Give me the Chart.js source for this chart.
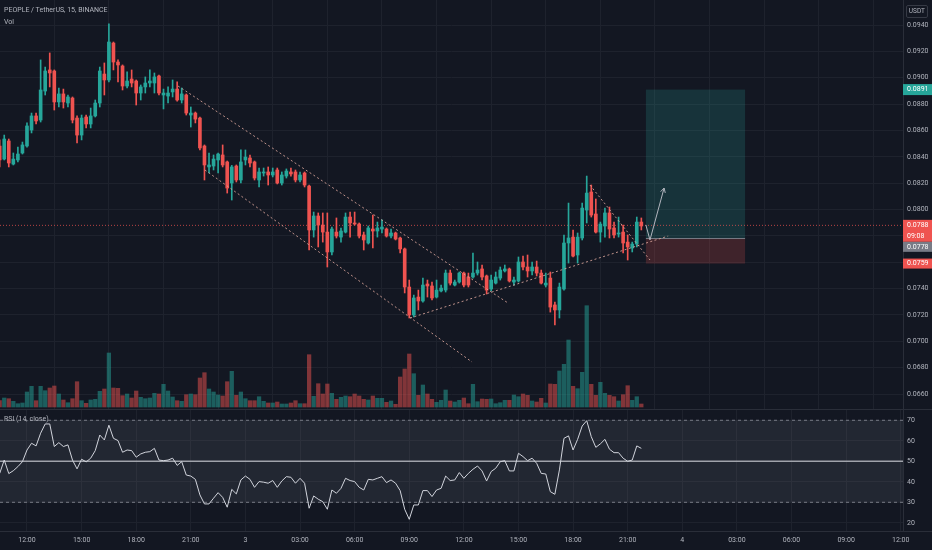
<!DOCTYPE html>
<html lang="en">

<head>
  <meta charset="UTF-8">
  <meta name="viewport" content="width=device-width, initial-scale=1.0">
  <title>PEOPLE / TetherUS, 15, BINANCE</title>
  <script src="https://cdn.jsdelivr.net/npm/chart.js"></script>
  <style>
    html, body { margin: 0; padding: 0; background: #131722; }
    .painel { position: relative; width: 932px; height: 550px; overflow: hidden; background: #131722; font-family: Roboto, "Noto Sans", sans-serif; }
    .painel canvas { position: absolute; left: 0; }
    #grafico_preco { top: 0; }
    #grafico_rsi { top: 409px; }
    .legenda { position: absolute; left: 4px; font-size: 7px; line-height: 9px; color: #b2b5be; white-space: nowrap; }
    .moeda { position: absolute; right: 4px; top: 5px; padding: 1px 2px; font-size: 6.5px; line-height: 9px; color: #b2b5be; border: 1px solid #363a45; border-radius: 2px; }
  </style>
</head>

<body>
  <div class="painel">
    <canvas id="grafico_preco" width="932" height="409"></canvas>
    <canvas id="grafico_rsi" width="932" height="141"></canvas>
    <div class="legenda" style="top:6px">PEOPLE / TetherUS, 15, BINANCE</div>
    <div class="legenda" style="top:18px">Vol</div>
    <div class="legenda" style="top:415px">RSI (14, close)</div>
    <div class="moeda">USDT</div>
  </div>
</body>

</html>
<script>
  // bar index of the first candle, counted in 15 min steps from 12:00 of day 2
  var firstBar = -6;

  var opens = [
    .08482, .08383, .08520, .08345, .08376, .08429, .08482, .08603, .08710, .08679,
    .08899, .09059, .09051, .08816, .08877, .08808, .08846, .08694, .08565, .08702,
    .08649, .08710, .08808, .09028, .08983, .09263, .09119, .09089, .08937, .08990,
    .08975, .08884, .08930, .08960, .08960, .09013, .08869, .08861, .08892, .08914,
    .08831, .08869, .08717, .08732, .08694, .08482, .08323, .08330, .08376, .08414,
    .08361, .08201, .08330, .08224, .08376, .08391, .08361, .08224, .08277, .08285,
    .08262, .08300, .08201, .08254, .08285, .08285, .08224, .08277, .08178, .07845,
    .07951, .07882, .07829, .07678, .07829, .07791, .07829, .07943, .07898, .07890,
    .07807, .07746, .07852, .07837, .07852, .07852, .07799, .07822, .07784, .07701,
    .07412, .07200, .07336, .07306, .07435, .07420, .07336, .07382, .07389, .07518,
    .07427, .07450, .07518, .07488, .07488, .07518, .07549, .07496, .07397, .07442,
    .07480, .07534, .07549, .07450, .07458, .07602, .07564, .07534, .07564, .07518,
    .07427, .07480, .07276, .07238, .07397, .07746, .07791, .07655, .07784, .07996,
    .08133, .07966, .07829, .07875, .07974, .07860, .07814, .07829, .07753, .07708,
    .07738, .07905
  ];
  var highs = [
    .08528, .08565, .08535, .08429, .08474, .08512, .08657, .08732, .08732, .09135,
    .09081, .09188, .09059, .08922, .08914, .08869, .08854, .08710, .08717, .08717,
    .08770, .08831, .09081, .09112, .09408, .09271, .09135, .09097, .09044, .09059,
    .08983, .08945, .09006, .09059, .09036, .09021, .08914, .08930, .08983, .08968,
    .08922, .08877, .08778, .08740, .08702, .08490, .08429, .08414, .08429, .08490,
    .08368, .08335, .08338, .08452, .08452, .08414, .08368, .08315, .08315, .08323,
    .08315, .08315, .08285, .08308, .08315, .08300, .08285, .08285, .08186, .07981,
    .07974, .07974, .07974, .07867, .07936, .07860, .07974, .07981, .07981, .07898,
    .07829, .07875, .07958, .07905, .07921, .07860, .07852, .07829, .07791, .07708,
    .07465, .07351, .07389, .07480, .07465, .07450, .07465, .07427, .07541, .07541,
    .07465, .07526, .07526, .07518, .07670, .07602, .07579, .07503, .07503, .07526,
    .07564, .07579, .07556, .07488, .07640, .07647, .07655, .07602, .07609, .07541,
    .07518, .07526, .07298, .07442, .07807, .08049, .07845, .07822, .08049, .08254,
    .08186, .08080, .07905, .08011, .08019, .07905, .07943, .07882, .07807, .07753,
    .07943, .07936
  ];
  var lows = [
    .08323, .08376, .08323, .08338, .08361, .08421, .08474, .08581, .08649, .08664,
    .08869, .08930, .08755, .08778, .08770, .08778, .08657, .08505, .08528, .08619,
    .08619, .08702, .08778, .08869, .08968, .09059, .08968, .08907, .08922, .08930,
    .08793, .08831, .08884, .08930, .08884, .08869, .08763, .08808, .08854, .08823,
    .08808, .08717, .08626, .08657, .08452, .08224, .08277, .08300, .08277, .08323,
    .08125, .08072, .08209, .08201, .08338, .08323, .08224, .08171, .08254, .08186,
    .08247, .08194, .08186, .08239, .08254, .08209, .08209, .08171, .07693, .07791,
    .07716, .07753, .07564, .07655, .07784, .07753, .07822, .07791, .07882, .07784,
    .07693, .07738, .07708, .07791, .07822, .07791, .07784, .07769, .07670, .07367,
    .07177, .07185, .07238, .07298, .07336, .07314, .07329, .07374, .07374, .07427,
    .07420, .07442, .07412, .07412, .07480, .07503, .07465, .07359, .07382, .07435,
    .07465, .07526, .07450, .07427, .07450, .07541, .07488, .07503, .07496, .07435,
    .07412, .07222, .07124, .07177, .07389, .07594, .07640, .07594, .07769, .07898,
    .07943, .07822, .07753, .07791, .07784, .07784, .07791, .07670, .07617, .07678,
    .07716, .07845
  ];
  var closes = [
    .08376, .08535, .08353, .08383, .08421, .08490, .08634, .08710, .08672, .08907,
    .09051, .09036, .08816, .08877, .08816, .08854, .08679, .08565, .08694, .08649,
    .08710, .08808, .09051, .08983, .09271, .09119, .09097, .08937, .08975, .08960,
    .08884, .08930, .08960, .08975, .09006, .08884, .08884, .08884, .08914, .08831,
    .08877, .08732, .08732, .08686, .08467, .08338, .08338, .08383, .08421, .08338,
    .08163, .08323, .08224, .08361, .08398, .08353, .08239, .08285, .08285, .08262,
    .08285, .08201, .08262, .08292, .08270, .08224, .08262, .08186, .07845, .07951,
    .07882, .07829, .07678, .07852, .07799, .07837, .07943, .07898, .07890, .07799,
    .07769, .07860, .07837, .07860, .07867, .07799, .07822, .07776, .07701, .07412,
    .07200, .07329, .07306, .07427, .07420, .07329, .07389, .07404, .07518, .07442,
    .07450, .07518, .07427, .07427, .07518, .07541, .07488, .07389, .07465, .07488,
    .07541, .07549, .07458, .07465, .07602, .07564, .07534, .07564, .07518, .07442,
    .07442, .07260, .07238, .07412, .07746, .07784, .07647, .07791, .08011, .08125,
    .07958, .07829, .07890, .07974, .07852, .07807, .07822, .07746, .07716, .07738,
    .07905, .07875
  ];
  // volume, thousands
  var volumes = [
    63, 90, 83, 57, 33, 40, 150, 207, 63, 207,
    163, 190, 210, 130, 70, 43, 83, 253, 63, 37,
    70, 77, 157, 180, 540, 190, 187, 113, 130, 90,
    160, 97, 83, 90, 137, 130, 227, 160, 100, 63,
    57, 123, 130, 123, 290, 343, 180, 150, 120, 110,
    253, 357, 117, 150, 83, 63, 63, 103, 57, 40,
    40, 50, 30, 30, 40, 63, 33, 33, 523, 107,
    233, 130, 230, 137, 77, 97, 110, 103, 130, 110,
    77, 70, 110, 87, 87, 47, 60, 27, 300, 380,
    530, 333, 117, 220, 130, 77, 47, 67, 170, 60,
    50, 67, 90, 33, 227, 53, 80, 77, 80, 33,
    43, 67, 67, 120, 103, 130, 117, 60, 50, 87,
    40, 230, 227, 360, 427, 670, 207, 183, 347, 1013,
    227, 117, 247, 137, 117, 103, 60, 123, 213, 67,
    103, 30
  ];
  var rsi = [
    44.1, 50.6, 44, 45.4, 47.4, 49.8, 55.5, 58.8, 57.5, 63.7,
    68.2, 68.2, 57.2, 59.1, 57.2, 58, 50.6, 46.3, 51, 49.7,
    51.5, 55.2, 62.8, 60.4, 67.6, 61.2, 60.1, 54.4, 55.5, 55.2,
    52, 53.6, 54.4, 54.7, 56.3, 50.6, 50.3, 50.6, 51.5, 48,
    49.8, 43.3, 42.8, 41.2, 33.6, 29.2, 29.2, 32, 34.7, 32.4,
    27.6, 36.3, 34.1, 40.9, 42.8, 41.2, 37.3, 40.1, 39.8, 39.3,
    40.6, 37.3, 40.4, 42.5, 42.2, 39.3, 41.7, 39.3, 27.1, 33.1,
    31.5, 30.3, 26.6, 36, 34.4, 36.8, 41.7, 40.6, 40.1, 37.3,
    36, 41.2, 40.9, 41.7, 42.5, 39.6, 40.9, 39.3, 35.7, 26.6,
    21.7, 28.7, 28.7, 35.7, 35.7, 32.8, 36, 36.8, 42.8, 40.6,
    40.9, 44.5, 41.7, 44.1, 46.1, 47.7, 45.3, 40.4, 45, 46.6,
    49.8, 50.3, 45.3, 45.3, 53.9, 52.3, 50.3, 51.5, 49, 44.1,
    43.8, 35.2, 33.9, 45.8, 61.2, 62.4, 55.5, 60.7, 67.2, 69.8,
    62, 56.8, 58.5, 60.7, 55.9, 54.2, 54.2, 51.5, 50, 50.6,
    57.5, 56.3
  ];

  var timeTicks = [0, 12, 24, 36, 48, 60, 72, 84, 96, 108, 120, 132, 144, 156, 168, 180, 192];
  var timeLabels = ['12:00', '15:00', '18:00', '21:00', '3', '03:00', '06:00', '09:00', '12:00',
    '15:00', '18:00', '21:00', '4', '03:00', '06:00', '09:00', '12:00'];
  var priceTicks = [0.066, 0.068, 0.070, 0.072, 0.074, 0.076, 0.078, 0.080, 0.082, 0.084,
    0.086, 0.088, 0.090, 0.092, 0.094];
  var rsiTicks = [20, 30, 40, 50, 60, 70];
  var rsiUpper = 70, rsiMid = 50, rsiLower = 30;

  // drawings (bar index, price)
  var channelUpper = [{ x: 33.2, y: 0.08937 }, { x: 105.7, y: 0.07291 }];
  var channelLower = [{ x: 39.1, y: 0.08300 }, { x: 97.8, y: 0.06843 }];
  var supportLine = [{ x: 84.2, y: 0.07177 }, { x: 140.9, y: 0.07799 }];
  var wedgeUpper = [{ x: 123.7, y: 0.08186 }, { x: 136.9, y: 0.07617 }];
  var arrowPath = [{ x: 136, y: 0.07883 }, { x: 136.9, y: 0.07769 }, { x: 140, y: 0.08163 }];

  // long position
  var posStart = 136, posEnd = 157.8;
  var posTarget = 0.0891, posEntry = 0.0778, posStop = 0.0759;
  var lastPrice = 0.0788, countdown = '09:08';

  var xMin = -5.93, xMax = 192.5;
  var priceMin = 0.064866, priceMax = 0.095897;

  var up = '#26a69a', down = '#ef5350';
  var gridColor = '#1e222d';

  Chart.defaults.font.family = 'Roboto, "Noto Sans", sans-serif';
  Chart.defaults.font.size = 7;
  Chart.defaults.color = '#b2b5be';

  function isUp(i) { return closes[i] >= opens[i]; }

  // chart.js reserves room for edge labels; panes here run edge to edge
  function noEdgePadding(s, size) {
    if (s.isHorizontal()) { s.height = size; } else { s.width = size; }
    s.paddingTop = 0; s.paddingBottom = 0; s.paddingLeft = 0; s.paddingRight = 0;
  }

  var bodies = [], wicks = [], volBars = [];
  for (var i = 0; i < opens.length; i++) {
    bodies.push({ x: firstBar + i, y: [opens[i], closes[i]] });
    wicks.push({ x: firstBar + i, y: [lows[i], highs[i]] });
    volBars.push({ x: firstBar + i, y: volumes[i] });
  }

  function dashed(data) {
    return {
      type: 'line', data: data, borderColor: 'rgba(222,168,158,0.85)', borderWidth: 1,
      borderDash: [2, 2.5], pointRadius: 0, order: 0
    };
  }

  var positionBox = {
    id: 'positionBox',
    beforeDatasetsDraw(chart) {
      var ctx = chart.ctx, x = chart.scales.x, y = chart.scales.y;
      var x0 = x.getPixelForValue(posStart), x1 = x.getPixelForValue(posEnd);
      var yT = y.getPixelForValue(posTarget), yE = y.getPixelForValue(posEntry), yS = y.getPixelForValue(posStop);
      ctx.save();
      ctx.fillStyle = 'rgba(38,166,154,0.2)';
      ctx.fillRect(x0, yT, x1 - x0, yE - yT);
      ctx.fillStyle = 'rgba(239,83,80,0.2)';
      ctx.fillRect(x0, yE, x1 - x0, yS - yE);
      ctx.strokeStyle = '#787b86';
      ctx.lineWidth = 1;
      ctx.beginPath();
      ctx.moveTo(x0, yE);
      ctx.lineTo(x1, yE);
      ctx.stroke();
      ctx.restore();
    }
  };

  var arrowHead = {
    id: 'arrowHead',
    afterDatasetsDraw(chart) {
      var ctx = chart.ctx, x = chart.scales.x, y = chart.scales.y;
      var a = arrowPath[arrowPath.length - 2], b = arrowPath[arrowPath.length - 1];
      var x1 = x.getPixelForValue(a.x), y1 = y.getPixelForValue(a.y);
      var x2 = x.getPixelForValue(b.x), y2 = y.getPixelForValue(b.y);
      var ang = Math.atan2(y2 - y1, x2 - x1);
      ctx.save();
      ctx.strokeStyle = '#b2b5be';
      ctx.lineWidth = 1;
      ctx.beginPath();
      ctx.moveTo(x2 - 5 * Math.cos(ang - 0.5), y2 - 5 * Math.sin(ang - 0.5));
      ctx.lineTo(x2, y2);
      ctx.lineTo(x2 - 5 * Math.cos(ang + 0.5), y2 - 5 * Math.sin(ang + 0.5));
      ctx.stroke();
      ctx.restore();
    }
  };

  var priceTags = {
    id: 'priceTags',
    afterDraw(chart) {
      var ctx = chart.ctx, y = chart.scales.y;
      var left = chart.chartArea.right, w = chart.width - left;
      ctx.save();
      ctx.font = '7px Roboto, "Noto Sans", sans-serif';
      ctx.textBaseline = 'middle';
      function tag(top, h, bg, lines) {
        ctx.fillStyle = bg;
        ctx.fillRect(left, top, w, h);
        ctx.fillStyle = '#ffffff';
        lines.forEach(function (t, k) {
          ctx.fillText(t, left + 4, top + (k + 0.5) * h / lines.length);
        });
      }
      tag(y.getPixelForValue(posTarget) - 5.5, 11, up, [posTarget.toFixed(4)]);
      var lastTop = y.getPixelForValue(lastPrice) - 5.5;
      tag(lastTop, 22, down, [lastPrice.toFixed(4), countdown]);
      tag(Math.max(y.getPixelForValue(posEntry) - 5, lastTop + 22), 10, '#787b86', [posEntry.toFixed(4)]);
      tag(y.getPixelForValue(posStop) - 5, 10, down, [posStop.toFixed(4)]);
      ctx.restore();
    }
  };

  new Chart(document.getElementById('grafico_preco'), {
    type: 'bar',
    data: {
      datasets: [
        dashed(channelUpper),
        dashed(channelLower),
        dashed(supportLine),
        dashed(wedgeUpper),
        {
          type: 'line', data: arrowPath, borderColor: '#b2b5be', borderWidth: 1,
          pointRadius: 0, order: 0
        },
        {
          label: 'corpo', data: bodies, grouped: false, barThickness: 3, minBarLength: 1,
          backgroundColor: function (c) { return isUp(c.dataIndex) ? up : down; }, order: 1
        },
        {
          label: 'pavio', data: wicks, grouped: false, barThickness: 1,
          backgroundColor: function (c) { return isUp(c.dataIndex) ? up : down; }, order: 2
        },
        {
          type: 'line', data: [{ x: xMin, y: lastPrice }, { x: xMax, y: lastPrice }],
          borderColor: 'rgba(239,83,80,0.75)', borderWidth: 1, borderDash: [1, 2], pointRadius: 0, order: 3
        },
        {
          label: 'Vol', data: volBars, yAxisID: 'yv', grouped: false, barThickness: 3.6,
          backgroundColor: function (c) { return isUp(c.dataIndex) ? 'rgba(38,166,154,0.5)' : 'rgba(239,83,80,0.5)'; },
          order: 6
        }
      ]
    },
    options: {
      responsive: false,
      animation: false,
      events: [],
      layout: { padding: 0, autoPadding: false },
      plugins: { legend: { display: false }, tooltip: { enabled: false } },
      scales: {
        x: {
          type: 'linear', min: xMin, max: xMax, offset: false,
          afterBuildTicks: function (s) { s.ticks = timeTicks.map(function (v) { return { value: v }; }); },
          afterFit: function (s) { noEdgePadding(s, 0); },
          ticks: { display: false },
          grid: { color: gridColor, drawTicks: false },
          border: { display: false }
        },
        y: {
          position: 'right', min: priceMin, max: priceMax,
          afterBuildTicks: function (s) { s.ticks = priceTicks.map(function (v) { return { value: v }; }); },
          afterFit: function (s) { noEdgePadding(s, 29); },
          ticks: { padding: 4, callback: function (v) { return v.toFixed(4); } },
          grid: { color: gridColor, drawTicks: false },
          border: { color: '#2a2e39' }
        },
        yv: { display: false, min: -20, max: 4070 }
      }
    },
    plugins: [positionBox, arrowHead, priceTags]
  });

  var rsiBands = {
    id: 'rsiBands',
    beforeDatasetsDraw(chart) {
      var ctx = chart.ctx, a = chart.chartArea, y = chart.scales.y;
      var yUp = y.getPixelForValue(rsiUpper), yMid = y.getPixelForValue(rsiMid), yLo = y.getPixelForValue(rsiLower);
      ctx.save();
      ctx.fillStyle = 'rgba(120,123,134,0.16)';
      ctx.fillRect(a.left, yUp, a.right - a.left, yLo - yUp);
      ctx.strokeStyle = '#787b86';
      ctx.lineWidth = 1;
      ctx.setLineDash([3, 3]);
      [yUp, yLo].forEach(function (v) {
        ctx.beginPath(); ctx.moveTo(a.left, v); ctx.lineTo(a.right, v); ctx.stroke();
      });
      ctx.setLineDash([]);
      ctx.strokeStyle = 'rgba(209,212,220,0.7)';
      ctx.lineWidth = 1.5;
      ctx.beginPath(); ctx.moveTo(a.left, yMid); ctx.lineTo(a.right, yMid); ctx.stroke();
      ctx.restore();
    },
    afterDraw(chart) {
      var ctx = chart.ctx, a = chart.chartArea;
      ctx.save();
      ctx.strokeStyle = '#2a2e39';
      ctx.lineWidth = 1;
      ctx.beginPath();
      ctx.moveTo(0, a.top + 0.5); ctx.lineTo(chart.width, a.top + 0.5);
      ctx.moveTo(0, a.bottom + 0.5); ctx.lineTo(chart.width, a.bottom + 0.5);
      ctx.stroke();
      ctx.restore();
    }
  };

  new Chart(document.getElementById('grafico_rsi'), {
    type: 'line',
    data: {
      datasets: [{
        label: 'RSI (14, close)',
        data: rsi.map(function (v, k) { return { x: firstBar + k, y: v }; }),
        borderColor: '#d1d4dc', borderWidth: 1, pointRadius: 0, tension: 0
      }]
    },
    options: {
      responsive: false,
      animation: false,
      events: [],
      layout: { padding: 0, autoPadding: false },
      plugins: { legend: { display: false }, tooltip: { enabled: false } },
      scales: {
        x: {
          type: 'linear', min: xMin, max: xMax, offset: false,
          afterBuildTicks: function (s) { s.ticks = timeTicks.map(function (v) { return { value: v }; }); },
          afterFit: function (s) { noEdgePadding(s, 19); },
          ticks: {
            padding: 5, autoSkip: false, maxRotation: 0,
            callback: function (v) { return timeLabels[timeTicks.indexOf(v)]; }
          },
          grid: { color: gridColor, drawTicks: false },
          border: { display: false }
        },
        y: {
          position: 'right', min: 16, max: 75.5,
          afterBuildTicks: function (s) { s.ticks = rsiTicks.map(function (v) { return { value: v }; }); },
          afterFit: function (s) { noEdgePadding(s, 29); },
          ticks: { padding: 4 },
          grid: { color: gridColor, drawTicks: false },
          border: { color: '#2a2e39' }
        }
      }
    },
    plugins: [rsiBands]
  });
</script>
